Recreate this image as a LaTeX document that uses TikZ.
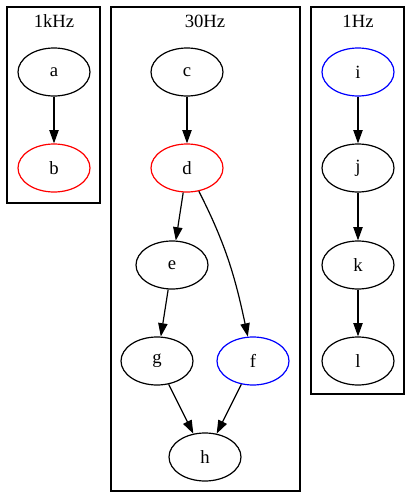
\documentclass[tikz,border=0pt]{standalone}
\usepackage{fontspec}
\setmainfont{Liberation Serif}
\usetikzlibrary{shapes.geometric,arrows.meta}
\begin{document}
\begin{tikzpicture}[x=0.75pt,y=0.75pt]
	% size of each node
	\def\szwidth{54pt}
	\def\sz{36pt}
	% node style definition
	\tikzstyle{state} = [draw, ellipse, line width=0.9pt, minimum width=\szwidth, minimum height=\sz, inner sep=0pt, font=\fontsize{14pt}{16pt}\selectfont];
	\tikzstyle{redstate} = [state, draw=red];
	\tikzstyle{bluestate} = [state, draw=blue];
	\tikzstyle{cluster} = [draw, line width=0.9pt];
	\tikzstyle{title} = [font=\fontsize{14pt}{16pt}\selectfont];
	\tikzstyle{edge} = [-{Triangle[length=10pt,width=7pt]}, line width=0.9pt];
	\useasboundingbox (0,0) rectangle (412,-494);
	% clusters
	\draw[cluster] (7,-7) rectangle (100,-203);
	\draw[cluster] (111,-7) rectangle (300,-491);
	\draw[cluster] (311,-7) rectangle (404,-394);
	\node[title] (khz) at (54,-21) {1kHz};
	\node[title] (thz) at (205,-21) {30Hz};
	\node[title] (ohz) at (358,-21) {1Hz};
	% 1kHz
	\node[state] (a) at (54,-72) {a};
	\node[redstate] (b) at (54,-168) {b};
	% 30Hz
	\node[state] (c) at (187,-72) {c};
	\node[redstate] (d) at (187,-168) {d};
	\node[state] (e) at (172,-265) {e};
	\node[state] (g) at (157,-361) {g};
	\node[bluestate] (f) at (253,-361) {f};
	\node[state] (h) at (205,-457) {h};
	% 1Hz
	\node[bluestate] (i) at (358,-72) {i};
	\node[state] (j) at (358,-168) {j};
	\node[state] (k) at (358,-265) {k};
	\node[state] (l) at (358,-361) {l};

	\draw[edge] (a) -- (b);
	\draw[edge] (c) -- (d);
	\draw[edge] (d) -- (e);
	\draw[edge] (e) -- (g);
	\draw[edge] (d) to[out=-63,in=102] (f);
	\draw[edge] (g) -- (h);
	\draw[edge] (f) -- (h);
	\draw[edge] (i) -- (j);
	\draw[edge] (j) -- (k);
	\draw[edge] (k) -- (l);
\end{tikzpicture}
\end{document}
